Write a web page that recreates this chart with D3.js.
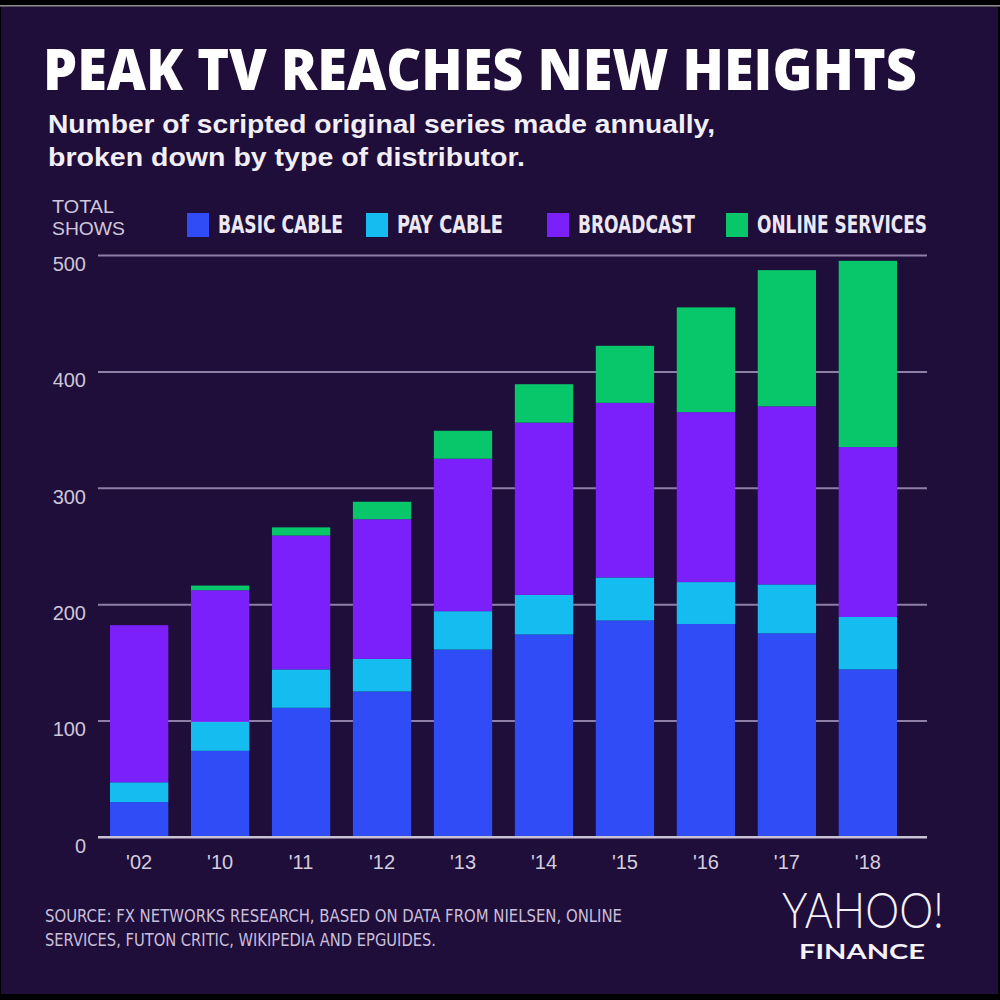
<!DOCTYPE html>
<html>
<head>
<meta charset="utf-8">
<script src="https://cdn.jsdelivr.net/npm/d3@7"></script>
<style>
  html, body { margin: 0; padding: 0; background: #000; }
  svg { display: block; }
</style>
</head>
<body>
<svg id="chart" width="1000" height="1000"></svg>
<script>
// ---- data ----
const years = ["'02", "'10", "'11", "'12", "'13", "'14", "'15", "'16", "'17", "'18"];
const seriesNames = ["BASIC CABLE", "PAY CABLE", "BROADCAST", "ONLINE SERVICES"];
const basicCable     = [30, 74, 111, 125, 161, 174, 186, 183, 175, 144];
const payCable       = [17, 25, 33, 28, 33, 34, 37, 36, 42, 45];
const broadcast      = [135, 113, 115, 120, 131, 148, 150, 146, 153, 146];
const onlineServices = [0, 4, 7, 15, 24, 33, 49, 90, 117, 160];
const yTicks = [0, 100, 200, 300, 400, 500];
const seriesColors = ["#2f4cf6", "#14bcf0", "#7b20fb", "#08c76b"];

const title = "PEAK TV REACHES NEW HEIGHTS";
const subtitle1 = "Number of scripted original series made annually,";
const subtitle2 = "broken down by type of distributor.";
const source1 = "SOURCE:  FX NETWORKS RESEARCH, BASED ON DATA FROM NIELSEN, ONLINE";
const source2 = "SERVICES, FUTON CRITIC, WIKIPEDIA AND EPGUIDES.";

// ---- build table ----
const keys = ["basic", "pay", "broadcast", "online"];
const table = years.map((y, i) => ({
  year: y, basic: basicCable[i], pay: payCable[i], broadcast: broadcast[i], online: onlineServices[i]
}));
const stacked = d3.stack().keys(keys)(table);

const svg = d3.select("#chart");
const BG = "#1f0d3a";

// frame
svg.append("rect").attr("x", 0).attr("y", 0).attr("width", 1000).attr("height", 1000).attr("fill", "#000");
svg.append("rect").attr("x", 0).attr("y", 5).attr("width", 1000).attr("height", 1.6).attr("fill", "#8d8a93");
svg.append("rect").attr("x", 1).attr("y", 7).attr("width", 997).attr("height", 987).attr("fill", BG);

// ---- titles ----
svg.append("text").text(title)
  .attr("x", 43).attr("y", 90)
  .attr("font-family", "'Open Sans', sans-serif").attr("font-weight", 800)
  .attr("font-size", 56).attr("fill", "#ffffff")
  .attr("textLength", 874).attr("lengthAdjust", "spacingAndGlyphs");

svg.append("text").text(subtitle1)
  .attr("x", 48).attr("y", 133)
  .attr("font-family", "'Liberation Sans', Arial, sans-serif").attr("font-weight", 700)
  .attr("font-size", 26).attr("fill", "#f1eef5")
  .attr("textLength", 667).attr("lengthAdjust", "spacingAndGlyphs");
svg.append("text").text(subtitle2)
  .attr("x", 48).attr("y", 166)
  .attr("font-family", "'Liberation Sans', Arial, sans-serif").attr("font-weight", 700)
  .attr("font-size", 26).attr("fill", "#f1eef5")
  .attr("textLength", 477).attr("lengthAdjust", "spacingAndGlyphs");

// ---- legend ----
svg.append("text").text("TOTAL")
  .attr("x", 52).attr("y", 213)
  .attr("font-family", "'Liberation Sans', Arial, sans-serif")
  .attr("font-size", 19).attr("fill", "#cfc8da")
  .attr("textLength", 62).attr("lengthAdjust", "spacingAndGlyphs");
svg.append("text").text("SHOWS")
  .attr("x", 52).attr("y", 235)
  .attr("font-family", "'Liberation Sans', Arial, sans-serif")
  .attr("font-size", 19).attr("fill", "#cfc8da")
  .attr("textLength", 73).attr("lengthAdjust", "spacingAndGlyphs");

const legendSquareX = [187, 366, 547, 726];
const legendLabelW = [125, 106, 117, 170];
seriesNames.forEach((name, i) => {
  svg.append("rect")
    .attr("x", legendSquareX[i]).attr("y", 213).attr("width", 22).attr("height", 24)
    .attr("fill", seriesColors[i]);
  svg.append("text").text(name)
    .attr("x", legendSquareX[i] + 31).attr("y", 233)
    .attr("font-family", "'Liberation Sans Narrow', 'DejaVu Sans Condensed', Arial, sans-serif")
    .attr("font-weight", 700).attr("font-size", 25).attr("fill", "#ece8f2")
    .attr("textLength", legendLabelW[i]).attr("lengthAdjust", "spacingAndGlyphs");
});

// ---- scales ----
const gridLeft = 98, gridRight = 927;
const y = d3.scaleLinear().domain([0, 500]).range([837, 255]);
const x = d3.scaleBand().domain(years).range([110, 897]).paddingInner(0.28).paddingOuter(0);

// gridlines + y labels
const yAxis = svg.append("g").attr("transform", `translate(${gridLeft},0)`)
  .call(d3.axisLeft(y).tickValues(yTicks).tickSize(-(gridRight - gridLeft)).tickPadding(12));
yAxis.select(".domain").remove();
yAxis.selectAll(".tick line")
  .attr("stroke", d => d === 0 ? "#c9c2d6" : "#8e7fa6")
  .attr("stroke-width", 2);
yAxis.selectAll(".tick text")
  .attr("dy", "0.76em")
  .attr("font-family", "'Liberation Sans', Arial, sans-serif")
  .attr("font-size", 20).attr("fill", "#cdc6d8");

// bars
svg.append("g").selectAll("g")
  .data(stacked).join("g")
  .attr("fill", (d, i) => seriesColors[i])
  .selectAll("rect")
  .data(d => d).join("rect")
  .attr("x", d => x(d.data.year))
  .attr("width", x.bandwidth())
  .attr("y", d => y(d[1]))
  .attr("height", d => Math.max(0, y(d[0]) - y(d[1])));

// redraw zero baseline over bars
svg.append("line")
  .attr("x1", gridLeft).attr("x2", gridRight)
  .attr("y1", y(0)).attr("y2", y(0))
  .attr("stroke", "#c9c2d6").attr("stroke-width", 2);

// x axis labels
const xAxis = svg.append("g").attr("transform", `translate(0,${y(0)})`)
  .call(d3.axisBottom(x).tickSize(0).tickPadding(18));
xAxis.select(".domain").remove();
xAxis.selectAll(".tick text")
  .attr("font-family", "'Liberation Sans', Arial, sans-serif")
  .attr("font-size", 20).attr("fill", "#d3cddd");

// ---- footer ----
svg.append("text").text(source1)
  .attr("x", 45).attr("y", 922)
  .attr("font-family", "'Liberation Sans Narrow', 'DejaVu Sans Condensed', Arial, sans-serif")
  .attr("font-size", 17).attr("fill", "#c9bfd9")
  .attr("textLength", 577).attr("lengthAdjust", "spacingAndGlyphs");
svg.append("text").text(source2)
  .attr("x", 45).attr("y", 946)
  .attr("font-family", "'Liberation Sans Narrow', 'DejaVu Sans Condensed', Arial, sans-serif")
  .attr("font-size", 17).attr("fill", "#c9bfd9")
  .attr("textLength", 391).attr("lengthAdjust", "spacingAndGlyphs");

// logo
svg.append("text").text("YAHOO!")
  .attr("x", 782).attr("y", 928)
  .attr("font-family", "Lato, 'Open Sans', sans-serif").attr("font-weight", 300)
  .attr("font-size", 50).attr("fill", "#f4f1f8")
  .attr("textLength", 162).attr("lengthAdjust", "spacingAndGlyphs");
svg.append("text").text("FINANCE")
  .attr("x", 799).attr("y", 959)
  .attr("font-family", "Lato, 'Open Sans', sans-serif").attr("font-weight", 700)
  .attr("font-size", 21).attr("fill", "#f4f1f8")
  .attr("textLength", 126).attr("lengthAdjust", "spacingAndGlyphs");
</script>
</body>
</html>
